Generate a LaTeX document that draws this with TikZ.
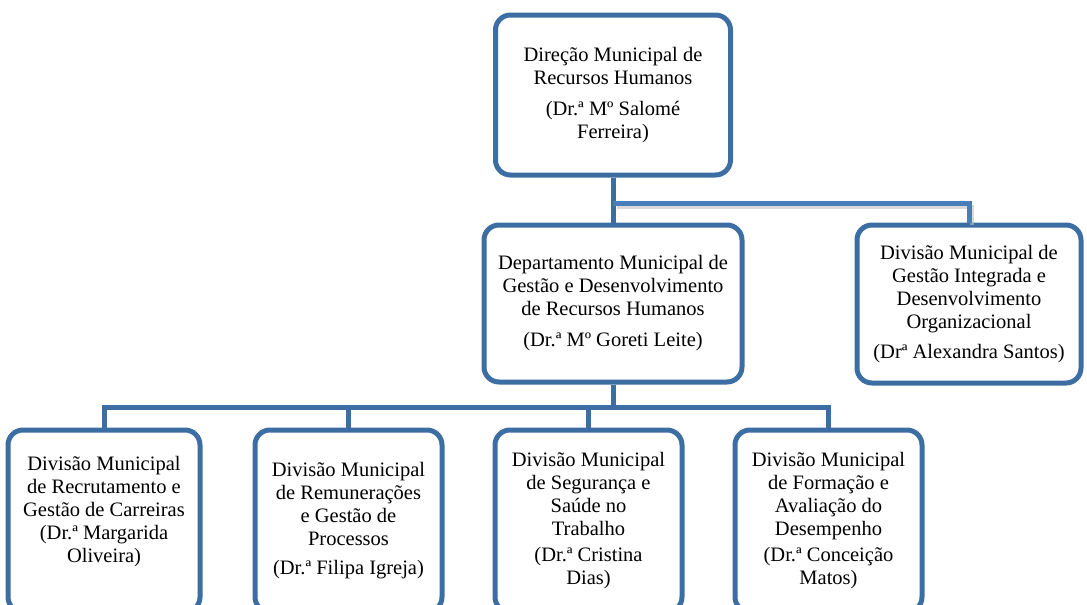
\documentclass[tikz,border=0pt]{standalone}
\usepackage{fontspec}
\setmainfont{Liberation Serif}
\usepackage{tikz}

\definecolor{orgblue}{RGB}{61,110,163}
\definecolor{orglight}{RGB}{74,126,187}

\begin{document}
\begin{tikzpicture}[
                    x=1pt,
                    y=-1pt,
                    line width=5pt,
                    draw=orgblue
                ]
                \tikzstyle{box}=[
                    draw=orgblue,
                    fill=white,
                    line width=5pt,
                    rounded corners=15pt,
                    align=center,
                    inner sep=0pt,
                    text=black,
                    font=\fontsize{20.5}{23}\selectfont
                ]
                \tikzstyle{link}=[
                    orgblue,
                    line width=5pt
                ]

                \useasboundingbox (0,0) rectangle (1087,605);

                % direction and departments
                \node[box, minimum width=235, minimum height=160] (dir) at (613,95)
                    {Direção Municipal de\\Recursos Humanos\\[8pt](Dr.ª Mº Salomé\\Ferreira)};
                \node[box, minimum width=258, minimum height=157] (dept) at (613,303.5)
                    {Departamento Municipal de\\Gestão e Desenvolvimento\\de Recursos Humanos\\[8pt](Dr.ª Mº Goreti Leite)};
                \node[box, minimum width=224, minimum height=158] (dmgi) at (969,304)
                    {Divisão Municipal de\\Gestão Integrada e\\Desenvolvimento\\Organizacional\\[7pt](Drª Alexandra Santos)};

                % divisions
                \node[box, minimum width=192, minimum height=182] (dmrc) at (104,521)
                    {Divisão Municipal\\de Recrutamento e\\Gestão de Carreiras\\(Dr.ª Margarida\\Oliveira)\\ \mbox{}};
                \node[box, minimum width=187, minimum height=182] (dmrp) at (348.5,521)
                    {Divisão Municipal\\de Remunerações\\e Gestão de\\Processos\\[6pt](Dr.ª Filipa Igreja)};
                \node[box, minimum width=187, minimum height=182] (dmss) at (588.5,521)
                    {Divisão Municipal\\de Segurança e\\Saúde no\\Trabalho\\[3pt](Dr.ª Cristina\\Dias)};
                \node[box, minimum width=187, minimum height=182] (dmfa) at (828.5,521)
                    {Divisão Municipal\\de Formação e\\Avaliação do\\Desempenho\\[3pt](Dr.ª Conceição\\Matos)};

                % connectors
                \draw[link] (dir.south) -- (dept.north);
                \draw[black!25, line width=4pt, opacity=0.6] (617,207) -| (972,225);
                \draw[orglight, line width=5pt] (dir.south |- 0,203) -| (dmgi.north);
                \draw[link] (dept.south) -- ++(0,23) -| (dmrc.north);
                \draw[link] (dept.south) ++(0,23) -| (dmrp.north);
                \draw[link] (dept.south) ++(0,23) -| (dmss.north);
                \draw[link] (dept.south) ++(0,23) -| (dmfa.north);
            \end{tikzpicture}
\end{document}
